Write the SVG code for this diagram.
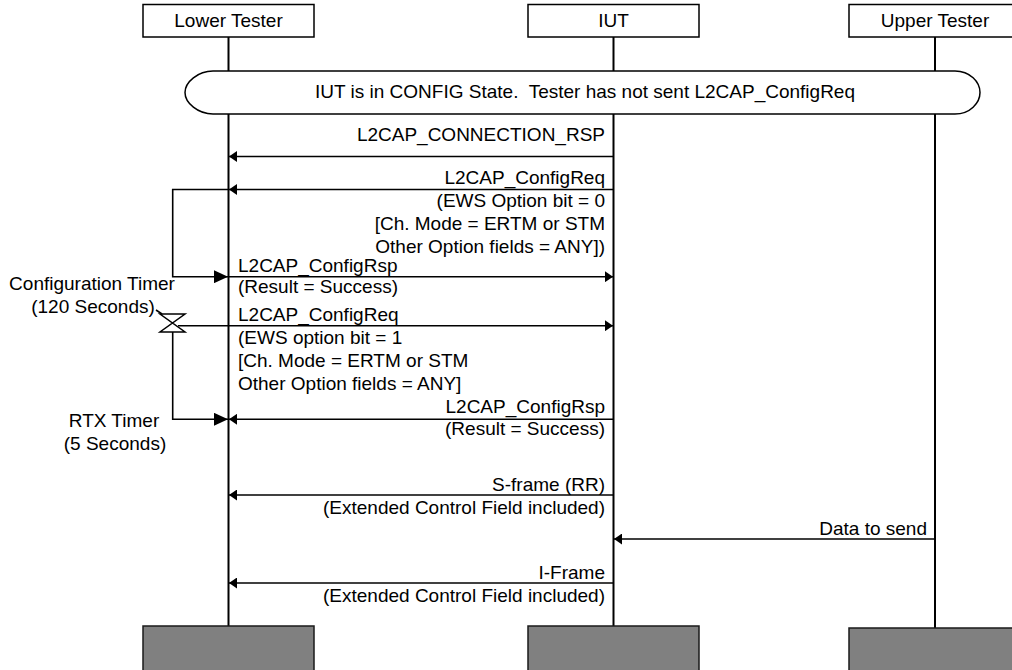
<svg xmlns="http://www.w3.org/2000/svg" width="1012" height="670" viewBox="0 0 1012 670">
<style>
text{font-family:"Liberation Sans",Arial,sans-serif;font-size:19px;fill:#000}
.box{fill:#fff;stroke:#000;stroke-width:1.5}
.foot{fill:#808080;stroke:#1a1a1a;stroke-width:1.5}
.life{stroke:#000;stroke-width:2;fill:none}
.msg{stroke:#000;stroke-width:1.6;fill:none}
.r{text-anchor:end}
.m{text-anchor:middle}
</style>
<defs>
<marker id="ah" viewBox="0 0 8 11" refX="8" refY="5.5" markerWidth="8" markerHeight="11" markerUnits="userSpaceOnUse" orient="auto">
<path d="M0,0 L8,5.5 L0,11 Z" fill="#000"/>
</marker>
<marker id="big" viewBox="0 0 14 13" refX="14" refY="6.5" markerWidth="14" markerHeight="13" markerUnits="userSpaceOnUse" orient="auto">
<path d="M0,0 L14,6.5 L0,13 Z" fill="#000"/>
</marker>
</defs>

<g id="lifelines">
<line class="life" x1="228.5" y1="37" x2="228.5" y2="626"/>
<line class="life" x1="613.5" y1="37" x2="613.5" y2="626"/>
<line class="life" x1="935" y1="37" x2="935" y2="628"/>
</g>

<g id="lower-tester">
<rect class="box" x="143" y="4.5" width="171" height="32.5"/>
<text class="m" x="228.5" y="27">Lower Tester</text>
<rect class="foot" x="143" y="626" width="171" height="60"/>
</g>
<g id="iut">
<rect class="box" x="528" y="4.5" width="171" height="32.5"/>
<text class="m" x="613.5" y="27">IUT</text>
<rect class="foot" x="528" y="626" width="171" height="60"/>
</g>
<g id="upper-tester">
<rect class="box" x="849" y="4.5" width="172" height="32.5"/>
<text class="m" x="935" y="27">Upper Tester</text>
<rect class="foot" x="849" y="628" width="172" height="60"/>
</g>

<g id="state">
<path class="box" d="M213,71 H955 C970,71 980,82 980,92.5 C980,103 970,114 955,114 H213 C198,114 185,103 185,92.5 C185,82 198,71 213,71 Z"/>
<text class="m" x="585" y="98" xml:space="preserve">IUT is in CONFIG State.  Tester has not sent L2CAP_ConfigReq</text>
</g>

<g id="connectors">
<line class="msg" x1="613.5" y1="156.5" x2="229" y2="156.5" marker-end="url(#ah)"/>
<line class="msg" x1="613.5" y1="189.5" x2="229" y2="189.5" marker-end="url(#ah)"/>
<polyline class="msg" points="228.5,189.5 172.7,189.5 172.7,276.7 228,276.7" marker-end="url(#big)"/>
<line class="msg" x1="228.5" y1="276.7" x2="613" y2="276.7" marker-end="url(#ah)"/>
<line class="msg" x1="178" y1="325.7" x2="613" y2="325.7" marker-end="url(#ah)"/>
<polyline class="msg" points="172.7,332 172.7,419.3 228,419.3" marker-end="url(#big)"/>
<line class="msg" x1="613.5" y1="419.3" x2="229" y2="419.3" marker-end="url(#ah)"/>
<line class="msg" x1="613.5" y1="495" x2="229" y2="495" marker-end="url(#ah)"/>
<line class="msg" x1="935" y1="539" x2="614" y2="539" marker-end="url(#ah)"/>
<line class="msg" x1="613.5" y1="583" x2="229" y2="583" marker-end="url(#ah)"/>
<path d="M160,314 H185 L160,332 H185 Z" fill="#fff" stroke="#000" stroke-width="1.5" stroke-linejoin="miter"/>
<line class="msg" x1="156" y1="310" x2="162" y2="314" stroke-width="1.2"/>
</g>

<g id="labels">
<text class="r" x="605" y="141">L2CAP_CONNECTION_RSP</text>
<text class="r" x="605" y="184">L2CAP_ConfigReq</text>
<text class="r" x="605" y="207">(EWS Option bit = 0</text>
<text class="r" x="605" y="230">[Ch. Mode = ERTM or STM</text>
<text class="r" x="605" y="253">Other Option fields = ANY])</text>
<text x="238" y="272">L2CAP_ConfigRsp</text>
<text x="238" y="293">(Result = Success)</text>
<text x="238" y="321">L2CAP_ConfigReq</text>
<text x="238" y="344">(EWS option bit = 1</text>
<text x="238" y="367">[Ch. Mode = ERTM or STM</text>
<text x="238" y="390">Other Option fields = ANY]</text>
<text class="r" x="605" y="413">L2CAP_ConfigRsp</text>
<text class="r" x="605" y="435">(Result = Success)</text>
<text class="r" x="605" y="491">S-frame (RR)</text>
<text class="r" x="605" y="514">(Extended Control Field included)</text>
<text class="r" x="927" y="535">Data to send</text>
<text class="r" x="605" y="579">I-Frame</text>
<text class="r" x="605" y="602">(Extended Control Field included)</text>
<text class="m" x="92" y="290">Configuration Timer</text>
<text class="m" x="93" y="313">(120 Seconds)</text>
<text class="m" x="114" y="427">RTX Timer</text>
<text class="m" x="115" y="450">(5 Seconds)</text>
</g>
</svg>
